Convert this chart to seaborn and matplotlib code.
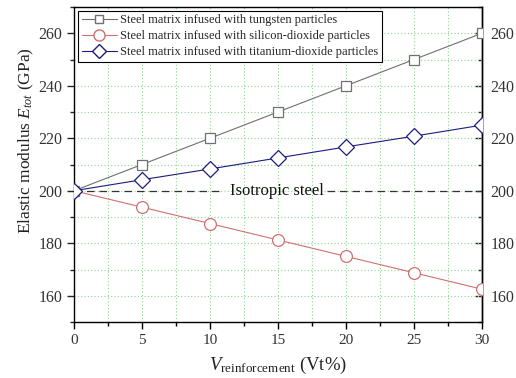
import numpy as np
import pandas as pd
import seaborn as sns
import matplotlib
matplotlib.use("Agg")
import matplotlib.pyplot as plt
from matplotlib.ticker import MultipleLocator
from matplotlib.lines import Line2D

# ---- data ----
vol = [0, 5, 10, 15, 20, 25, 30]
tungsten = [200, 210, 220, 230, 240, 250, 260]
silica = [200, 193.75, 187.5, 181.25, 175, 168.75, 162.5]
titania = [200, 204.2, 208.3, 212.5, 216.7, 220.8, 225]
labels = ["Steel matrix infused with tungsten particles",
          "Steel matrix infused with silicon-dioxide particles",
          "Steel matrix infused with titanium-dioxide particles"]
isotropic = 200
yticks = [160, 180, 200, 220, 240, 260]

sns.set_theme(style="white")
plt.rcParams['font.family'] = ['Liberation Serif', 'DejaVu Serif']
plt.rcParams['mathtext.fontset'] = 'custom'
plt.rcParams['mathtext.rm'] = 'Liberation Serif'
plt.rcParams['mathtext.it'] = 'Liberation Serif:italic'

df = pd.DataFrame({
    "V": vol * 3,
    "E": tungsten + silica + titania,
    "series": [labels[0]] * 7 + [labels[1]] * 7 + [labels[2]] * 7,
})

fig = plt.figure(figsize=(5.16, 3.78), dpi=100)
ax = fig.add_axes([74/516, 1 - 322/378, (482-74)/516, (322-7)/378])

colors = ["#707070", "#d07070", "#1c1c80"]
markers = ["s", "o", "D"]
msizes = [6.5, 8.5, 8]
for lab, c, m, ms in zip(labels, colors, markers, msizes):
    sub = df[df["series"] == lab]
    sns.lineplot(data=sub, x="V", y="E", ax=ax, color=c, lw=0.8,
                 marker=m, markersize=ms, markerfacecolor="white",
                 markeredgecolor=c, markeredgewidth=0.9, label=lab,
                 legend=False, zorder=3)

# isotropic steel dashed line with text gap
ax.plot([0, 10.9], [isotropic, isotropic], ls=(0, (6, 4)), color="#333333", lw=0.9, zorder=2)
ax.plot([18.6, 30], [isotropic, isotropic], ls=(0, (6, 4)), color="#333333", lw=0.9, zorder=2)
ax.text(14.9, isotropic, "Isotropic steel", ha="center", va="center", fontsize=12, color="#111111")

ax.set_xlim(0, 30)
ax.set_ylim(150, 270)
ax.xaxis.set_major_locator(MultipleLocator(5))
ax.xaxis.set_minor_locator(MultipleLocator(2.5))
ax.set_yticks(yticks)
ax.yaxis.set_minor_locator(MultipleLocator(10))

ax.grid(True, which="both", color="#8fd48f", ls=(0, (1, 2)), lw=0.8)
ax.set_axisbelow(True)

for s in ax.spines.values():
    s.set_color("black")
    s.set_linewidth(1.0)

ax.tick_params(axis="x", which="both", direction="out", bottom=True, top=False,
               labelsize=11, colors="black", labelcolor="#333333")
ax.tick_params(axis="x", which="major", length=5, width=1)
ax.tick_params(axis="x", which="minor", length=3, width=1)
ax.tick_params(axis="y", which="both", direction="out", left=True, right=False,
               labelsize=11.5, labelcolor="#333333")
ax.tick_params(axis="y", which="major", length=5, width=1)
ax.tick_params(axis="y", which="minor", length=3, width=1)

sec = ax.secondary_yaxis("right")
sec.set_yticks(yticks)
sec.yaxis.set_minor_locator(MultipleLocator(10))
sec.tick_params(axis="y", which="both", direction="in", labelsize=11.5,
                labelcolor="#333333", pad=6)
sec.tick_params(axis="y", which="major", length=5, width=1)
sec.tick_params(axis="y", which="minor", length=3, width=1)
sec.spines["right"].set_linewidth(1.0)
sec.spines["right"].set_color("black")

ax.set_xlabel(r"$V_{\mathrm{reinforcement}}$ (Vt%)", fontsize=13.5, labelpad=6, color="#222222")
ax.set_ylabel(r"Elastic modulus $E_{tot}$ (GPa)", fontsize=12.5, color="#222222")
ax.yaxis.set_label_coords(-0.093, 0.575)

handles = [Line2D([0], [0], color=c, lw=0.8, marker=m, markersize=ms - 0.5,
                  markerfacecolor="white", markeredgecolor=c)
           for c, m, ms in zip(colors, markers, msizes)]
leg = ax.legend(handles, labels, loc="upper left", fontsize=9.0, frameon=True,
                fancybox=False, edgecolor="black", framealpha=1,
                borderaxespad=0.3, handlelength=2.8, labelspacing=0.3,
                borderpad=0.3, handletextpad=0.3)
leg.get_frame().set_linewidth(0.8)

fig.savefig("out.png", dpi=100)
